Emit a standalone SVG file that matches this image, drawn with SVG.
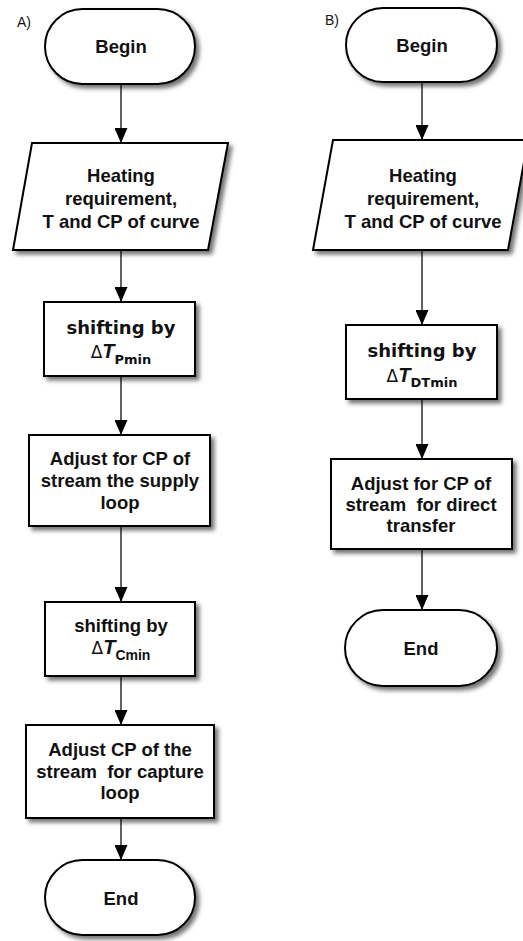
<svg xmlns="http://www.w3.org/2000/svg" width="523" height="941" viewBox="0 0 523 941">
<style>
.shape{fill:#fff;stroke:#000;stroke-width:2;filter:url(#sh)}
.t{font-family:"Liberation Sans",Arial,sans-serif;font-weight:bold;font-size:18.5px;fill:#111;text-anchor:middle}
.v{font-family:"DejaVu Sans",Verdana,sans-serif;font-weight:bold;font-size:18px;fill:#111;text-anchor:middle}
.lbl{font-family:"Liberation Sans",Arial,sans-serif;font-size:14px;fill:#111}
.d{font-family:"DejaVu Sans",sans-serif;font-weight:normal;font-size:17px}
.T{font-family:"Liberation Sans",Arial,sans-serif;font-style:italic;font-weight:bold;font-size:20px}
.s{font-weight:bold;font-size:13px}
.pre{white-space:pre}
.c{stroke:#3a3a3a;stroke-width:1.6;fill:none;marker-end:url(#ah)}
</style>
<defs>
<filter id="sh" x="-10%" y="-10%" width="130%" height="130%">
<feDropShadow dx="3.5" dy="3.5" stdDeviation="2" flood-color="#000" flood-opacity="0.55"/>
</filter>
<marker id="ah" markerWidth="15" markerHeight="13" refX="15" refY="6.5" orient="auto" markerUnits="userSpaceOnUse" viewBox="0 0 15 13">
<path d="M0,0 L15,6.5 L0,13 Z" fill="#000"/>
</marker>
</defs>
<text class="lbl" x="17" y="27">A)</text>
<text class="lbl" x="325" y="25">B)</text>
<g id="connectors">
<line class="c" x1="121" y1="84" x2="121" y2="143"/>
<line class="c" x1="121" y1="250" x2="121" y2="302"/>
<line class="c" x1="121" y1="376" x2="121" y2="435"/>
<line class="c" x1="121" y1="526" x2="121" y2="602"/>
<line class="c" x1="121" y1="676" x2="121" y2="725"/>
<line class="c" x1="121" y1="818" x2="121" y2="860"/>
<line class="c" x1="422" y1="82" x2="422" y2="140"/>
<line class="c" x1="422" y1="250" x2="422" y2="325"/>
<line class="c" x1="422" y1="399" x2="422" y2="459"/>
<line class="c" x1="422" y1="549" x2="422" y2="610"/>
</g>
<g id="a_begin">
<rect class="shape" x="45" y="9" width="150" height="75" rx="37.5"/>
<text class="t" x="121" y="53">Begin</text>
</g>
<g id="a_input">
<polygon class="shape" points="32,143 228,143 208,250 13,250"/>
<text class="t" x="121" y="182">Heating</text>
<text class="t" x="121" y="205">requirement,</text>
<text class="t" x="121" y="228">T and CP of curve</text>
</g>
<g id="a_shift1">
<rect class="shape" x="44" y="302" width="151" height="74"/>
<text class="v" x="121" y="334">shifting by</text>
<text class="v" x="121" y="358"><tspan class="d">Δ</tspan><tspan class="T">T</tspan><tspan class="s" dy="6">Pmin</tspan></text>
</g>
<g id="a_adjust1">
<rect class="shape" x="29" y="435" width="181" height="91"/>
<text class="t" x="120" y="465">Adjust for CP of</text>
<text class="t" x="120" y="487">stream the supply</text>
<text class="t" x="120" y="509">loop</text>
</g>
<g id="a_shift2">
<rect class="shape" x="45" y="602" width="150" height="74"/>
<text class="t" x="121" y="632">shifting by</text>
<text class="t" x="121" y="654"><tspan class="d">Δ</tspan><tspan class="T">T</tspan><tspan font-size="14" dy="6">Cmin</tspan></text>
</g>
<g id="a_adjust2">
<rect class="shape" x="26" y="725" width="188" height="93"/>
<text class="t" x="120" y="756">Adjust CP of the</text>
<text class="t pre" x="120" y="778">stream  for capture</text>
<text class="t" x="120" y="799">loop</text>
</g>
<g id="a_end">
<rect class="shape" x="45" y="860" width="150" height="75" rx="37.5"/>
<text class="t" x="121" y="905">End</text>
</g>
<g id="b_begin">
<rect class="shape" x="346" y="8" width="151" height="74" rx="37"/>
<text class="t" x="422" y="52">Begin</text>
</g>
<g id="b_input">
<polygon class="shape" points="333,140 528,140 508,250 313,250"/>
<text class="t" x="423" y="182">Heating</text>
<text class="t" x="423" y="205">requirement,</text>
<text class="t" x="423" y="228">T and CP of curve</text>
</g>
<g id="b_shift">
<rect class="shape" x="346" y="325" width="151" height="74"/>
<text class="v" x="422" y="357">shifting by</text>
<text class="v" x="422" y="382"><tspan class="d">Δ</tspan><tspan class="T">T</tspan><tspan class="s" dy="5">DTmin</tspan></text>
</g>
<g id="b_adjust">
<rect class="shape" x="331" y="459" width="181" height="90"/>
<text class="t" x="421" y="490">Adjust for CP of</text>
<text class="t pre" x="421" y="511">stream  for direct</text>
<text class="t" x="421" y="532">transfer</text>
</g>
<g id="b_end">
<rect class="shape" x="345" y="610" width="152" height="76" rx="38"/>
<text class="t" x="421" y="655">End</text>
</g>
</svg>
